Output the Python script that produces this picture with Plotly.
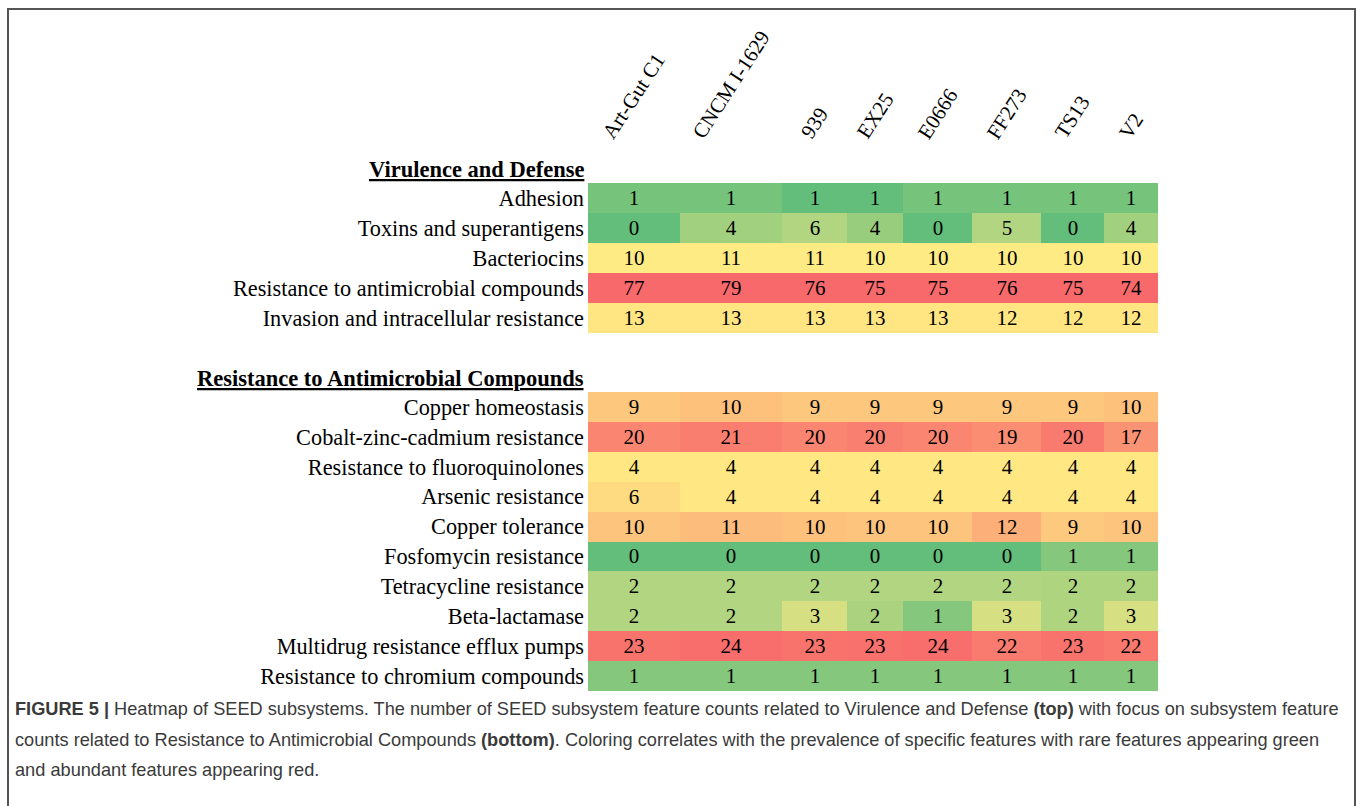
import plotly.graph_objects as go

# ---------------- data ----------------
strains = ["Art-Gut C1", "CNCM I-1629", "939", "EX25", "E0666", "FF273", "TS13", "V2"]

vd_rows = ["Adhesion", "Toxins and superantigens", "Bacteriocins",
           "Resistance to antimicrobial compounds", "Invasion and intracellular resistance"]
vd_counts = [
    [1, 1, 1, 1, 1, 1, 1, 1],
    [0, 4, 6, 4, 0, 5, 0, 4],
    [10, 11, 11, 10, 10, 10, 10, 10],
    [77, 79, 76, 75, 75, 76, 75, 74],
    [13, 13, 13, 13, 13, 12, 12, 12],
]
# colour level (0 = green, 0.5 = yellow, 1 = red)
vd_level = [
    [0.06, 0.06, 0.00, 0.00, 0.06, 0.06, 0.06, 0.06],
    [0.00, 0.20, 0.25, 0.17, 0.00, 0.25, 0.00, 0.20],
    [0.50, 0.50, 0.50, 0.50, 0.50, 0.50, 0.50, 0.50],
    [1.00, 1.00, 1.00, 1.00, 1.00, 1.00, 1.00, 1.00],
    [0.52, 0.52, 0.52, 0.52, 0.52, 0.52, 0.52, 0.52],
]

rac_rows = ["Copper homeostasis", "Cobalt-zinc-cadmium resistance", "Resistance to fluoroquinolones",
            "Arsenic resistance", "Copper tolerance", "Fosfomycin resistance",
            "Tetracycline resistance", "Beta-lactamase", "Multidrug resistance efflux pumps",
            "Resistance to chromium compounds"]
rac_counts = [
    [9, 10, 9, 9, 9, 9, 9, 10],
    [20, 21, 20, 20, 20, 19, 20, 17],
    [4, 4, 4, 4, 4, 4, 4, 4],
    [6, 4, 4, 4, 4, 4, 4, 4],
    [10, 11, 10, 10, 10, 12, 9, 10],
    [0, 0, 0, 0, 0, 0, 1, 1],
    [2, 2, 2, 2, 2, 2, 2, 2],
    [2, 2, 3, 2, 1, 3, 2, 3],
    [23, 24, 23, 23, 24, 22, 23, 22],
    [1, 1, 1, 1, 1, 1, 1, 1],
]
rac_level = [
    [0.64, 0.66, 0.64, 0.64, 0.64, 0.64, 0.64, 0.66],
    [0.89, 0.92, 0.89, 0.91, 0.89, 0.86, 0.93, 0.84],
    [0.51, 0.51, 0.51, 0.51, 0.51, 0.51, 0.51, 0.51],
    [0.56, 0.51, 0.51, 0.51, 0.51, 0.51, 0.51, 0.51],
    [0.65, 0.68, 0.66, 0.65, 0.65, 0.73, 0.63, 0.65],
    [0.00, 0.00, 0.00, 0.00, 0.00, 0.00, 0.11, 0.11],
    [0.25, 0.25, 0.25, 0.25, 0.25, 0.25, 0.24, 0.24],
    [0.25, 0.25, 0.37, 0.23, 0.11, 0.37, 0.24, 0.37],
    [0.96, 0.98, 0.96, 0.97, 0.98, 0.93, 0.96, 0.94],
    [0.11, 0.11, 0.11, 0.11, 0.11, 0.11, 0.11, 0.11],
]

section_titles = ["Virulence and Defense", "Resistance to Antimicrobial Compounds"]
caption_lines = [
    "<b>FIGURE 5 |</b> Heatmap of SEED subsystems. The number of SEED subsystem feature counts related to Virulence and Defense <b>(top)</b> with focus on subsystem feature",
    "counts related to Resistance to Antimicrobial Compounds <b>(bottom)</b>. Coloring correlates with the prevalence of specific features with rare features appearing green",
    "and abundant features appearing red.",
]

# ---------------- layout constants ----------------
W, H = 1357, 806
COL_EDGES = [0, 92, 194, 259, 315, 384, 453, 516, 570]   # column widths in px
X0, X1 = 588, 1158
TOP_Y = (183, 333)
BOT_Y = (392, 691)
SERIF = "Liberation Serif, Times New Roman, serif"
SANS = "Liberation Sans, Arial, sans-serif"

def px(x):
    return x / W

def py(y):
    return 1 - y / H

excel = [[0.0, "#63BE7B"], [0.5, "#FFEB84"], [1.0, "#F8696B"]]

fig = go.Figure()
for rows, counts, level, ya in [(vd_rows, vd_counts, vd_level, "y"), (rac_rows, rac_counts, rac_level, "y2")]:
    fig.add_trace(go.Heatmap(
        x=COL_EDGES, y=rows, z=level, text=counts,
        texttemplate="%{text}", textfont=dict(family=SERIF, size=21, color="black"),
        colorscale=excel, zmin=0, zmax=1, showscale=False, hoverinfo="skip",
        xaxis="x", yaxis=ya,
    ))

yax_common = dict(autorange="reversed", showgrid=False, zeroline=False, ticks="",
                  tickfont=dict(family=SERIF, size=22.3, color="black"), showline=False,
                  ticklabelstandoff=3)
fig.update_layout(
    width=W, height=H, margin=dict(l=0, r=0, t=0, b=0),
    paper_bgcolor="white", plot_bgcolor="white", showlegend=False,
    xaxis=dict(domain=[px(X0), px(X1)], range=[0, COL_EDGES[-1]], showticklabels=False,
               showgrid=False, zeroline=False, ticks="", anchor="y2"),
    yaxis=dict(domain=[py(TOP_Y[1]), py(TOP_Y[0])], anchor="x", **yax_common),
    yaxis2=dict(domain=[py(BOT_Y[1]), py(BOT_Y[0])], anchor="x", **yax_common),
)

# column headers
for i, s in enumerate(strains):
    cx = (COL_EDGES[i] + COL_EDGES[i + 1]) / 2
    fig.add_annotation(x=cx, xref="x", y=py(146), yref="paper", text=s, showarrow=False,
                       textangle=-57, xanchor="center", yanchor="bottom",
                       font=dict(family=SERIF, size=21, color="black"))

# section headings
for t, yy in zip(section_titles, [169, 378]):
    fig.add_annotation(x=px(586), xref="paper", y=py(yy), yref="paper",
                       text=f"<b><u>{t}</u></b>", showarrow=False, xanchor="right", yanchor="middle",
                       font=dict(family=SERIF, size=22.5, color="black"))

# caption
for line, yy in zip(caption_lines, [709, 740, 770]):
    fig.add_annotation(x=px(13), xref="paper", y=py(yy), yref="paper", text=line,
                       showarrow=False, xanchor="left", yanchor="middle", align="left",
                       font=dict(family=SANS, size=18.2, color="#3a3a3a"))

# frame
fig.add_shape(type="rect", xref="paper", yref="paper", x0=px(8), x1=px(1355), y0=-0.05, y1=py(9),
              line=dict(color="#555555", width=2), fillcolor="rgba(0,0,0,0)")

fig.write_html("out.html")
